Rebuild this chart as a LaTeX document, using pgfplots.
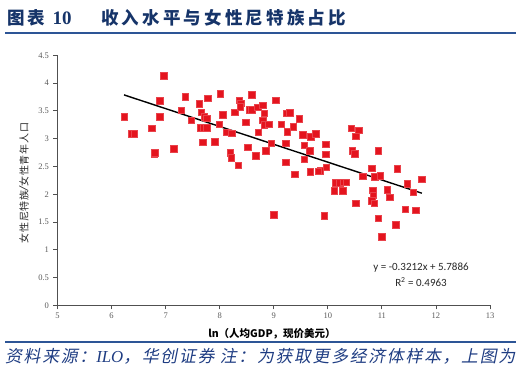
\documentclass[border=0pt]{standalone}
\usepackage{pgfplots}
\pgfplotsset{compat=1.18}
\usepackage{fontspec}
\setmainfont{Liberation Serif}
\newfontfamily\cjk{Noto Sans CJK SC}
\newfontfamily\cjkylab{Noto Sans CJK SC}[LetterSpace=8]
\newfontfamily\cjktitle{Noto Sans CJK SC}[LetterSpace=18]
\newfontfamily\cjkslant{Noto Sans CJK SC}[FakeSlant=0.2,LetterSpace=10.5]
\newfontfamily\calib{Carlito}
\definecolor{titleblue}{RGB}{22,52,105}
\definecolor{lineblue}{RGB}{45,85,150}
\definecolor{footblue}{RGB}{30,60,130}
\definecolor{ptred}{RGB}{228,20,30}
\definecolor{axgray}{RGB}{80,80,80}
\definecolor{tickgray}{RGB}{90,90,90}
\begin{document}
\begin{tikzpicture}
\path[use as bounding box] (0pt,0pt) rectangle (524pt,378pt);
\node[anchor=west,inner sep=0,text=titleblue] at (7pt,360.5pt) {\cjktitle\fontsize{17.5}{18}\selectfont\bfseries 图表 {\rmfamily\bfseries\fontsize{19}{19}\selectfont 10}};
\node[anchor=west,inner sep=0,text=titleblue] at (101pt,360.5pt) {\cjktitle\fontsize{17.5}{18}\selectfont\bfseries 收入水平与女性尼特族占比};
\draw[lineblue,line width=2pt] (5pt,345.3pt) -- (516pt,345.3pt);
\draw[lineblue,line width=2pt] (5pt,35.7pt) -- (516pt,35.7pt);
\node[anchor=west,inner sep=0,text=footblue] at (5pt,21.5pt) {\cjkslant\fontsize{16.8}{17}\selectfont 资料来源：{\rmfamily\itshape ILO}，华创证券 注：为获取更多经济体样本，上图为};
\begin{axis}[
  at={(57.5pt,72.7pt)}, anchor=south west, scale only axis,
  width=432.5pt, height=250pt,
  xmin=5, xmax=13, ymin=0, ymax=4.5,
  axis x line*=bottom, axis y line*=left,
  axis line style={-, axgray, line width=0.8pt},
  xtick={5,6,...,13}, ytick={0,0.5,...,4.5},
  tick align=outside, major tick length=4pt,
  tick style={axgray, line width=0.8pt},
  /pgf/number format/assume math mode=true,
  tick label style={font=\fontsize{8.5}{8.5}\selectfont, text=tickgray},
  yticklabel style={/pgf/number format/fixed, xshift=-1pt},
  clip=false,
]
\addplot[only marks, mark=square*, mark size=3.3pt, mark options={fill=ptred, draw=ptred!80!white, line width=0.3pt}] table {
x y
6.23 3.40
6.36 3.09
6.42 3.09
6.74 3.19
6.785 2.72
6.80 2.745
6.89 3.68
6.89 3.40
6.96 4.13
7.15 2.815
7.29 3.51
7.36 3.76
7.475 3.33
7.62 3.63
7.66 3.48
7.68 2.94
7.71 3.40
7.76 3.37
7.64 3.20
7.70 3.20
7.76 3.20
7.775 3.73
7.91 2.95
7.99 3.26
8.01 3.81
8.05 3.435
8.13 3.12
8.22 3.10
8.19 2.75
8.215 2.66
8.28 3.48
8.34 2.52
8.36 3.69
8.39 3.64
8.38 3.575
8.48 3.30
8.52 2.85
8.59 3.79
8.55 3.52
8.59 3.52
8.67 2.69
8.70 3.57
8.71 3.12
8.79 3.60
8.825 3.46
8.80 3.33
8.82 3.25
8.91 3.26
8.85 2.78
8.95 2.92
9.04 3.69
9.14 3.26
9.23 3.46
9.29 3.47
9.245 3.13
9.22 2.92
9.36 3.22
9.47 3.36
9.53 3.07
9.68 3.04
9.77 3.09
9.22 2.58
9.56 2.88
9.66 2.78
9.56 2.63
9.96 2.90
9.96 2.72
9.97 2.49
9.86 2.42
9.82 2.415
9.67 2.41
9.39 2.36
10.43 3.19
10.57 3.15
10.52 3.045
10.45 2.78
10.50 2.73
10.93 2.78
10.81 2.47
10.64 2.325
10.87 2.32
10.965 2.33
11.28 2.46
11.74 2.27
11.47 2.19
11.58 2.04
10.15 2.21
10.22 2.21
10.28 2.22
10.34 2.22
10.12 2.06
10.27 2.06
10.51 1.84
10.83 2.07
10.84 1.98
10.81 1.88
10.86 1.84
11.10 2.08
11.145 1.95
11.43 1.73
11.62 1.71
10.93 1.57
11.25 1.45
11.00 1.24
9.00 1.63
9.93 1.61
};
\addplot[black, line width=1.4pt] coordinates {(6.23,3.7875) (11.74,2.0177)};
\end{axis}
\node[rotate=90,inner sep=0,text=black!85] at (24pt,195pt) {\cjkylab\fontsize{10}{10}\selectfont 女性尼特族{\rmfamily\bfseries\itshape\fontsize{13}{13}\selectfont /}女性青年人口};
\node[inner sep=0,text=black] at (272pt,44pt) {\cjk\fontsize{10.5}{11}\selectfont\bfseries ln（人均GDP，现价美元）};
\node[inner sep=0,align=center,text=black!85,font=\calib\fontsize{11}{16}\selectfont] at (421pt,103pt) {y = -0.3212x + 5.7886\\ R\textsuperscript{2} = 0.4963};
\end{tikzpicture}
\end{document}
